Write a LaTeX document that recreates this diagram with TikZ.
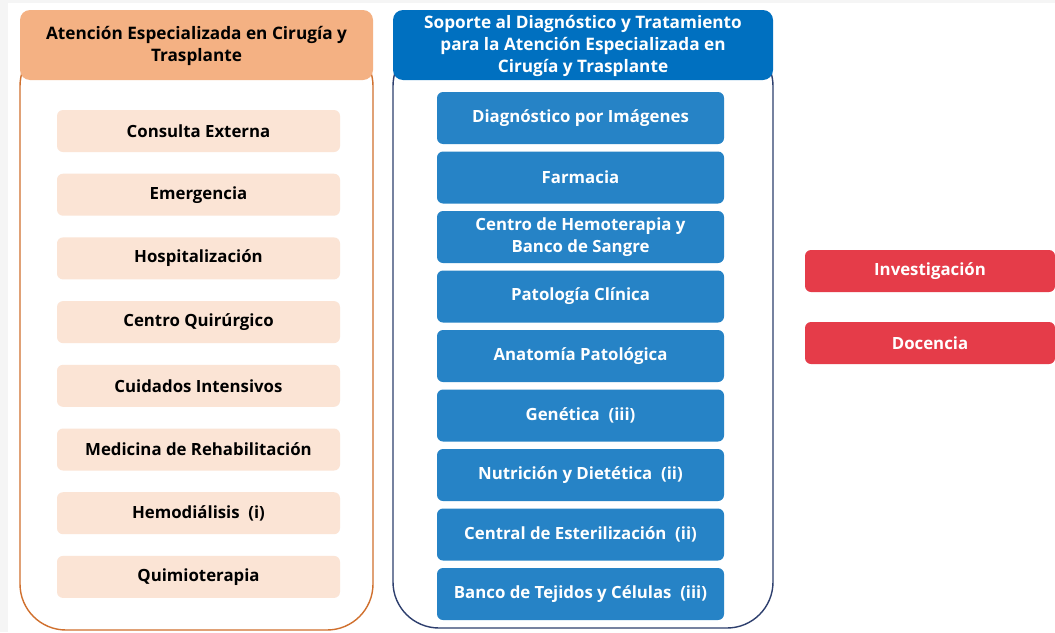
\documentclass[tikz,border=0pt]{standalone}
\usepackage{fontspec}
\setmainfont{Open Sans}
\definecolor{hdrorange}{HTML}{F4B183}
\definecolor{lineorange}{HTML}{D0702E}
\definecolor{itemorange}{HTML}{FBE4D5}
\definecolor{hdrblue}{HTML}{0070C0}
\definecolor{itemblue}{HTML}{2683C6}
\definecolor{lineblue}{HTML}{2E3F6E}
\definecolor{boxred}{HTML}{E53C49}
\begin{document}
\begin{tikzpicture}[x=1pt, y=-1pt, line width=1.4pt,
  frame/.style={rounded corners=46pt, fill=white, inner sep=0pt},
  header/.style={rounded corners=10pt, inner sep=0pt, minimum height=70pt},
  headtext/.style={align=center, font=\bfseries\fontsize{17.2}{22}\selectfont},
  itembox/.style={rounded corners=6pt, inner sep=0pt,
    font=\bfseries\fontsize{16.8}{22}\selectfont},
  leftitem/.style={itembox, fill=itemorange, minimum width=283pt, minimum height=42pt},
  miditem/.style={itembox, fill=itemblue, text=white, minimum width=287pt, minimum height=52pt},
  sidebox/.style={itembox, fill=boxred, text=white, minimum width=250pt, minimum height=42pt}]

\fill[gray!8] (0,0) rectangle (1055,632);
\fill[white] (8,3) rectangle (1055,632);

% left column
\node[frame, draw=lineorange, minimum width=353pt, minimum height=590pt] (lframe) at (196.5,335) {};
\node[header, fill=hdrorange, minimum width=353pt] (lhead) at (196.5,45) {};
\node[headtext] (ltext) at (196.5,46) {Atención Especializada en Cirugía y\\Trasplante};
\foreach \txt [count=\i from 0] in {Consulta Externa, Emergencia, Hospitalización,
  Centro Quirúrgico, Cuidados Intensivos, Medicina de Rehabilitación,
  Hemodiálisis\ \ (i), Quimioterapia}
  \node[leftitem] (l\i) at (198.5,131+63.7*\i) {\txt};

% middle column
\node[frame, draw=lineblue, minimum width=380pt, minimum height=588pt] (mframe) at (583,334) {};
\node[header, fill=hdrblue, minimum width=380pt] (mhead) at (583,45) {};
\node[headtext, text=white] (mtext) at (583,46)
  {Soporte al Diagnóstico y Tratamiento\\para la Atención Especializada en\\Cirugía y Trasplante};
\foreach \txt [count=\i from 0] in {Diagnóstico por Imágenes, Farmacia,
  {Centro de Hemoterapia y\\Banco de Sangre}, Patología Clínica, Anatomía Patológica,
  Genética\ \ (iii), Nutrición y Dietética\ \ (ii), Central de Esterilización\ \ (ii),
  Banco de Tejidos y Células\ \ (iii)}
  \node[miditem, align=center] (m\i) at (580.5,118+59.5*\i) {\txt};

% right column
\node[sidebox] (inv) at (930,271) {Investigación};
\node[sidebox] (doc) at (930,343) {Docencia};

\end{tikzpicture}
\end{document}
